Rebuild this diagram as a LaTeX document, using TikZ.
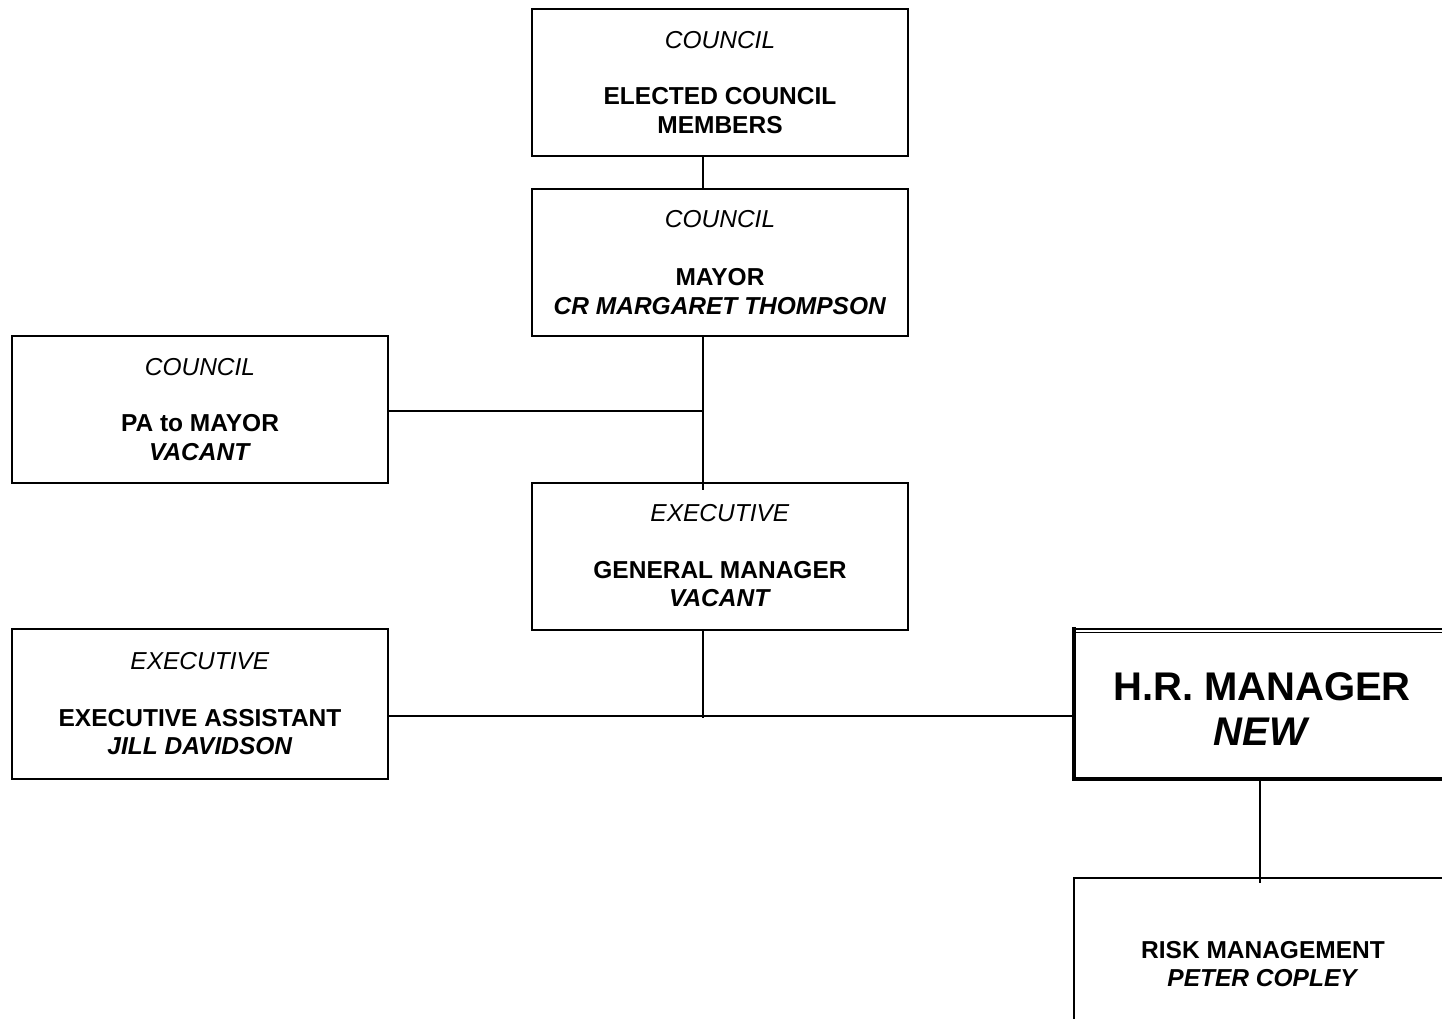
\documentclass[tikz,border=0pt]{standalone}
\usepackage{fontspec}
\setmainfont{Liberation Sans}
\begin{document}
\begin{tikzpicture}[x=1pt,y=-1pt,
  orgbox/.style={draw, line width=2pt, minimum width=376pt, minimum height=147pt, inner sep=0pt, align=center,
    font=\fontsize{24.5}{28.5}\selectfont},
  bigbox/.style={minimum width=380pt, minimum height=150pt, inner sep=0pt},
  bigtext/.style={align=center, inner sep=0pt, font=\fontsize{40}{45}\selectfont\bfseries},
  conn/.style={line width=1.3pt}]
\useasboundingbox (0,0) rectangle (1442,1018);
\clip (0,0) rectangle (1442,1018);

\node[orgbox] (elected) at (720,82.5) {\textit{COUNCIL}\\[28pt]\textbf{ELECTED COUNCIL}\\\textbf{MEMBERS}};
\node[orgbox] (mayor) at (720,262.5) {\textit{COUNCIL}\\[30pt]\textbf{MAYOR}\\\textbf{\textit{CR MARGARET THOMPSON}}};
\node[orgbox] (pa) at (200,409.5) {\textit{COUNCIL}\\[28pt]\textbf{PA to MAYOR}\\\textbf{\textit{VACANT}}};
\node[orgbox] (gm) at (720,556) {\textit{EXECUTIVE}\\[28pt]\textbf{GENERAL MANAGER}\\\textbf{\textit{VACANT}}};
\node[orgbox, minimum height=150pt] (ea) at (200,704) {\textit{EXECUTIVE}\\[28pt]\textbf{EXECUTIVE ASSISTANT}\\\textbf{\textit{JILL DAVIDSON}}};
\node[bigbox] (hr) at (1264,704) {};
\draw[line width=4pt, line cap=rect] (hr.north west) -- (hr.south west) -- (hr.south east);
\draw[line width=2.4pt] ([xshift=-2pt]hr.north west) -- (hr.north east);
\draw[line width=1.4pt] ([xshift=2pt,yshift=-3.6pt]hr.north west) -- ([yshift=-3.6pt]hr.north east);
\node[bigtext] (hrtext) at (1262,709) {H.R. MANAGER\\\textit{NEW}};
\node[orgbox, minimum width=378pt, minimum height=172pt] (risk) at (1263,964) {\textbf{RISK MANAGEMENT}\\\textbf{\textit{PETER COPLEY}}};

\coordinate (jpa) at (703,411);
\coordinate (jgm) at (703,718);
\draw[conn] ([xshift=-17pt]elected.south) -- ([xshift=-17pt,yshift=-1pt]mayor.north);
\draw[conn] ([xshift=-17pt]mayor.south) -- ([xshift=-17pt,yshift=-8pt]gm.north);
\draw[conn] (pa.east |- jpa) -- (jpa);
\draw[conn] ([xshift=-17pt]gm.south) -- (jgm);
\draw[conn] (ea.east |- 0,716) -- (hr.west |- 0,716);
\draw[conn] ([xshift=-4pt]hr.south) -- ([xshift=-3pt,yshift=-6pt]risk.north);
\end{tikzpicture}
\end{document}
